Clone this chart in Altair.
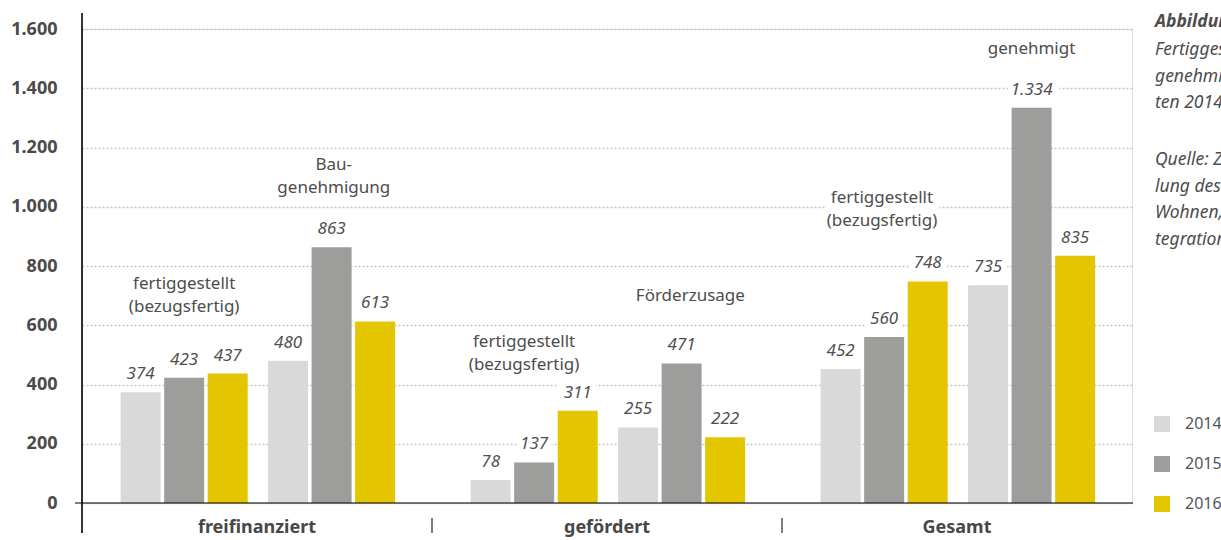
import altair as alt
import pandas as pd

# ---------------------------------------------------------------- data
groups = ["freifinanziert", "gefördert", "Gesamt"]
years = ["2014", "2015", "2016"]
year_colors = ["#d9d9d9", "#9d9d9c", "#e3c500"]

# two clusters per group: completions, then approvals / funding commitments
cluster_names = [
    ["fertiggestellt\n(bezugsfertig)", "Bau-\ngenehmigung"],
    ["fertiggestellt\n(bezugsfertig)", "Förderzusage"],
    ["fertiggestellt\n(bezugsfertig)", "genehmigt"],
]

freifinanziert_fertig = [374, 423, 437]
freifinanziert_genehmigt = [480, 863, 613]
gefoerdert_fertig = [78, 137, 311]
gefoerdert_zusage = [255, 471, 222]
gesamt_fertig = [452, 560, 748]
gesamt_genehmigt = [735, 1334, 835]

series = [
    [freifinanziert_fertig, freifinanziert_genehmigt],
    [gefoerdert_fertig, gefoerdert_zusage],
    [gesamt_fertig, gesamt_genehmigt],
]

# where each cluster caption sits: height in dwellings, sideways nudge in x units
cluster_caption_level = [[740, 1141], [543, 699], [1030, 1532]]
cluster_caption_shift = [[0.0, 0.05], [-0.23, 0.2], [-0.05, 0.0]]

y_ticks = [0, 200, 400, 600, 800, 1000, 1200, 1400, 1600]

caption_head = "Abbildung 3:"
caption_body = "Fertiggestellte,\ngenehmigte und geförderte Wohneinhei-\nten 2014–2016"
caption_source = "Quelle: Zusammenstel-\nlung des Ministeriums für\nWohnen, Bau und In-\ntegration"

# ---------------------------------------------------------------- layout
W, H = 1050, 474
GROUP_SPAN = 8.0      # x units per group
GROUP_CENTER = 4.02   # centre of the two clusters inside a group
CLUSTER_GAP = 3.37    # distance between the two cluster centres
BAR_STEP = 0.995      # distance between neighbouring year bars

FONT = "Noto Sans"
TEXT = "#4d4d4d"

rows, notes = [], []
for gi, g in enumerate(groups):
    for ci in range(2):
        cluster_x = gi * GROUP_SPAN + GROUP_CENTER + (ci - 0.5) * CLUSTER_GAP
        notes.append({"pos": cluster_x + cluster_caption_shift[gi][ci],
                      "level": cluster_caption_level[gi][ci],
                      "name": cluster_names[gi][ci]})
        for yi, yr in enumerate(years):
            rows.append({"Gruppe": g, "Jahr": yr,
                         "pos": cluster_x + (yi - 1) * BAR_STEP,
                         "Wert": series[gi][ci][yi]})

bars_df = pd.DataFrame(rows)
notes_df = pd.DataFrame(notes)
groups_df = pd.DataFrame({"Gruppe": groups,
                          "pos": [i * GROUP_SPAN + GROUP_SPAN / 2 for i in range(len(groups))]})
sep_df = pd.DataFrame({"pos": [i * GROUP_SPAN for i in range(1, len(groups))]})
one = pd.DataFrame({"k": [0]})

x_scale = alt.Scale(domain=[0, GROUP_SPAN * len(groups)], nice=False, zero=False, padding=0)
y_scale = alt.Scale(domain=[0, 1600], nice=False)

de_number = "replace(format(datum.Wert, ','), ',', '.')"

y_axis = alt.Axis(
    values=y_ticks,
    labelExpr="replace(format(datum.value, ','), ',', '.')",
    labelFont=FONT, labelFontSize=18, labelFontWeight="bold", labelColor="#4a4a4a",
    labelPadding=25, ticks=False, tickSize=0, domain=False,
    grid=True, gridDash=[2, 2], gridColor="#c4c4c4", gridWidth=1.5, title=None,
)

base = alt.Chart(bars_df)

bars = base.mark_bar(width=40).encode(
    x=alt.X("pos:Q", scale=x_scale, axis=None),
    y=alt.Y("Wert:Q", scale=y_scale, axis=y_axis),
    y2=alt.value(H - 4),
    color=alt.Color(
        "Jahr:N", title=None,
        scale=alt.Scale(domain=years, range=year_colors),
        legend=alt.Legend(
            orient="none", legendX=1072, legendY=387, padding=0,
            symbolType="square", symbolSize=256, symbolStrokeWidth=0, symbolOpacity=1,
            labelFont=FONT, labelFontSize=16, labelColor="#555555",
            labelOffset=15, rowPadding=24,
        ),
    ),
)

value_enc = dict(
    x=alt.X("pos:Q", scale=x_scale, axis=None),
    y=alt.Y("Wert:Q", scale=y_scale),
    text="label:N",
)
# white knock-outs behind the labels keep the dotted grid away from the text
value_halo = base.transform_calculate(label=de_number).mark_text(
    font=FONT, fontSize=17, fontStyle="italic", dy=-13, baseline="alphabetic",
    color="white", stroke="white", strokeWidth=12,
).encode(**value_enc)
value_text = base.transform_calculate(label=de_number).mark_text(
    font=FONT, fontSize=17, fontStyle="italic", dy=-13, baseline="alphabetic",
    color="#505050",
).encode(**value_enc)

note_enc = dict(
    x=alt.X("pos:Q", scale=x_scale, axis=None),
    y=alt.Y("level:Q", scale=y_scale),
    text="name:N",
)
note_halo = alt.Chart(notes_df).mark_text(
    font=FONT, fontSize=17, lineBreak="\n", lineHeight=23, baseline="middle",
    color="white", stroke="white", strokeWidth=14,
).encode(**note_enc)
note_text = alt.Chart(notes_df).mark_text(
    font=FONT, fontSize=17, lineBreak="\n", lineHeight=23, baseline="middle",
    color=TEXT,
).encode(**note_enc)

zero_line = alt.Chart(one).mark_rule(color="black", strokeWidth=1.2).encode(
    y=alt.Y(datum=0, scale=y_scale), x=alt.value(-7), x2=alt.value(W + 1),
)
y_line = alt.Chart(one).mark_rule(color="black", strokeWidth=1.6).encode(
    x=alt.value(0), y=alt.value(-16), y2=alt.value(H + 30),
)
separators = alt.Chart(sep_df).mark_rule(color="black", strokeWidth=1).encode(
    x=alt.X("pos:Q", scale=x_scale, axis=None), y=alt.value(H + 15), y2=alt.value(H + 30),
)
group_labels = alt.Chart(groups_df).mark_text(
    font=FONT, fontSize=18, fontWeight="bold", color="#474747", baseline="alphabetic",
).encode(
    x=alt.X("pos:Q", scale=x_scale, axis=None), y=alt.value(H + 30), text="Gruppe:N",
)

side_head = alt.Chart(one).mark_text(
    font=FONT, fontSize=17.5, fontWeight="bold", fontStyle="italic", color=TEXT,
    align="left", baseline="middle",
).encode(x=alt.value(1073), y=alt.value(-7), text=alt.value(caption_head))
side_body = alt.Chart(one).mark_text(
    font=FONT, fontSize=17.5, fontStyle="italic", color=TEXT, align="left",
    baseline="middle", lineBreak="\n", lineHeight=26.7,
).encode(x=alt.value(1073), y=alt.value(21), text=alt.value(caption_body))
side_source = alt.Chart(one).mark_text(
    font=FONT, fontSize=17.5, fontStyle="italic", color=TEXT, align="left",
    baseline="middle", lineBreak="\n", lineHeight=26.7,
).encode(x=alt.value(1073), y=alt.value(131), text=alt.value(caption_source))

chart = alt.layer(
    value_halo, note_halo, bars, value_text, note_text,
    zero_line, y_line, separators, group_labels,
    side_head, side_body, side_source,
).properties(
    width=W, height=H,
    padding={"left": 82, "top": 29, "right": 1221 - 82 - W, "bottom": 540 - 29 - H},
    autosize=alt.AutoSizeParams(type="none"),
).configure_view(strokeWidth=0).configure(background="white")

chart.save("out.html", embed_options={"renderer": "svg", "actions": False})
